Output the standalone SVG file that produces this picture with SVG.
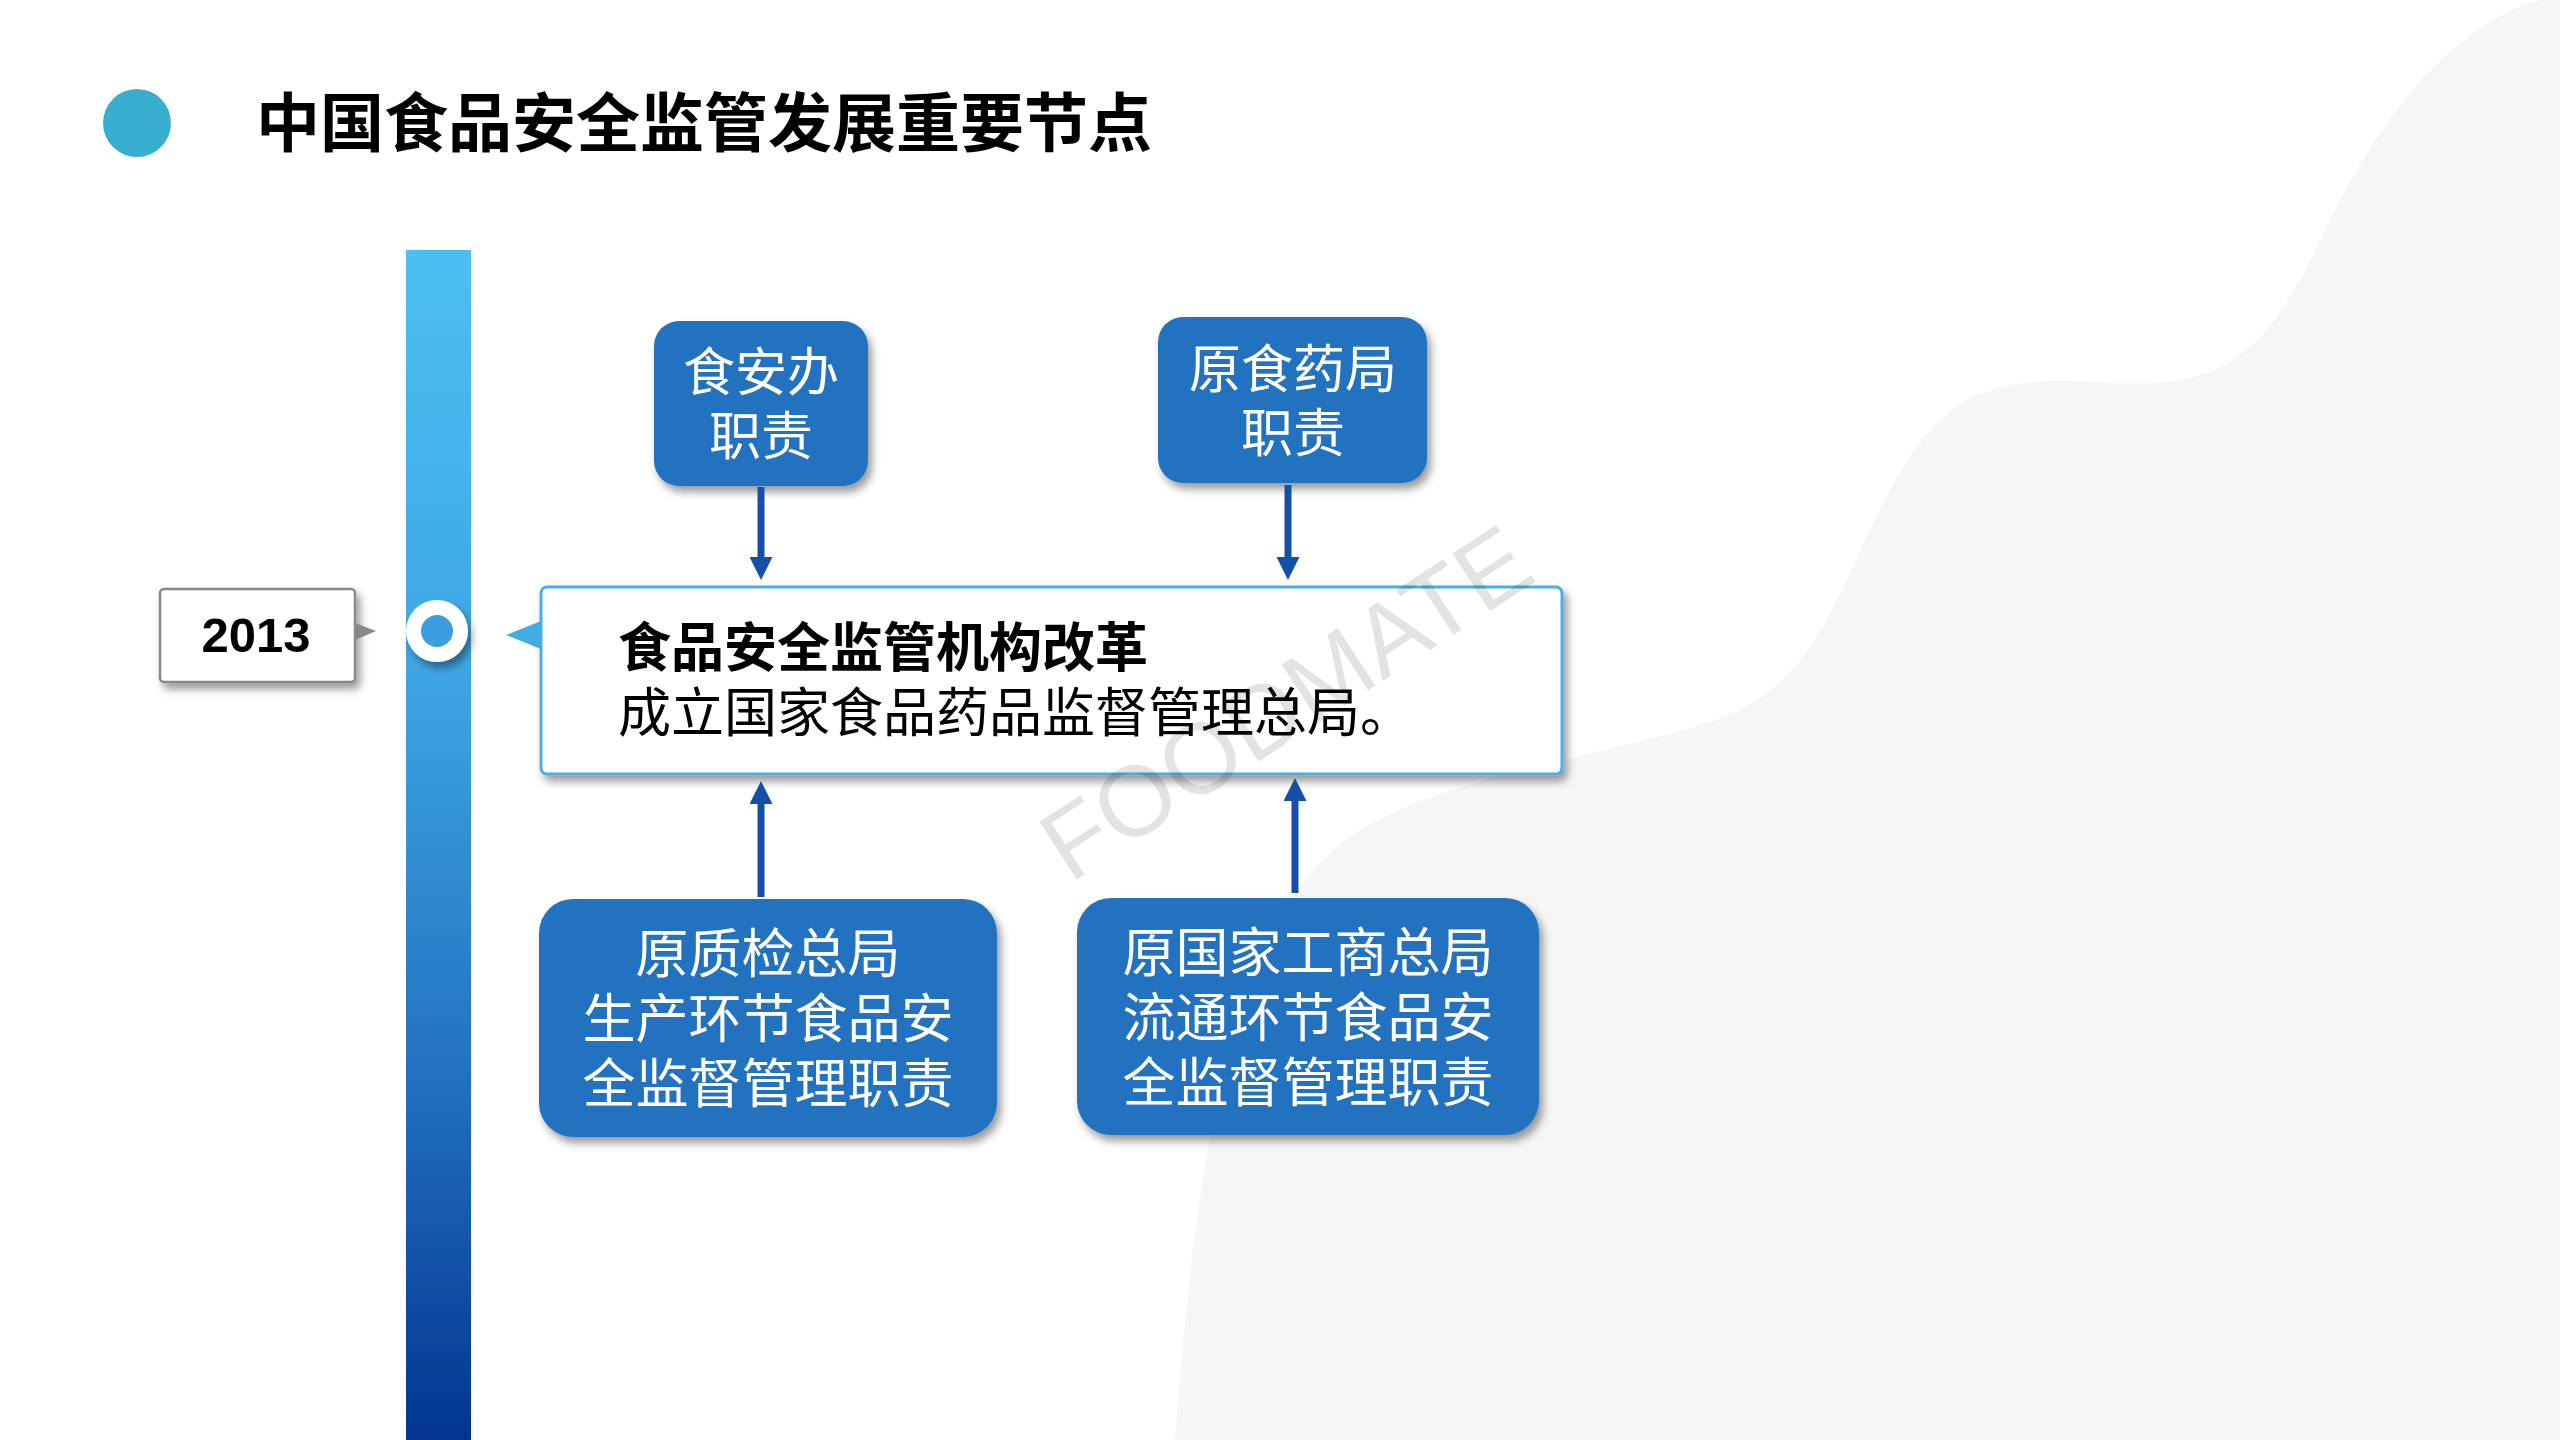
<svg xmlns="http://www.w3.org/2000/svg" width="2560" height="1440" viewBox="0 0 2560 1440">
<style>
.cjk{font-family:"Noto Sans CJK SC","Noto Sans",sans-serif}
.box{fill:#2472C0}
.wt{fill:#FFFFFF;font-size:52px;text-anchor:middle}
.wb{fill:#FFFFFF;font-size:53px;text-anchor:middle}
.conn{stroke:#1550A8;stroke-width:7;fill:none}
</style>
<defs>
<linearGradient id="bar" x1="0" y1="0" x2="0" y2="1">
<stop offset="0" stop-color="#4BBFF3"/>
<stop offset="0.35" stop-color="#3EA6E4"/>
<stop offset="0.7" stop-color="#2270C0"/>
<stop offset="1" stop-color="#03358F"/>
</linearGradient>
<filter id="sh" x="-20%" y="-20%" width="140%" height="150%">
<feDropShadow dx="4" dy="6" stdDeviation="4" flood-color="#000" flood-opacity="0.4"/>
</filter>
<marker id="ah" viewBox="0 0 23 23" refX="13" refY="11.5" markerWidth="23" markerHeight="23" markerUnits="userSpaceOnUse" orient="auto">
<path d="M0,0 L23,11.5 L0,23 z" fill="#1550A8"/>
</marker>
</defs>
<rect width="2560" height="1440" fill="#FFFFFF"/>
<path id="blob" d="M2540 0 C2450 25,2380 120,2330 220 C2290 300,2260 380,2150 383 C2090 386,2040 370,1975 396 C1920 420,1890 490,1860 551 C1820 640,1790 700,1700 725 C1600 755,1440 780,1360 830 C1290 875,1250 960,1225 1060 C1200 1170,1185 1300,1175 1440 L2560 1440 L2560 0 Z" fill="#F6F6F7"/>
<g id="title">
<circle cx="137" cy="123" r="34" fill="#38AFD0"/>
<text x="256" y="146" class="cjk" font-size="64" font-weight="bold" fill="#000000">中国食品安全监管发展重要节点</text>
</g>
<g id="timeline">
<rect x="406" y="250" width="65" height="1190" fill="url(#bar)"/>
<circle cx="437" cy="631" r="31" fill="#FFFFFF" filter="url(#sh)"/>
<circle cx="437" cy="631" r="16" fill="#3A9EE0"/>
</g>
<g id="year">
<rect x="160" y="589" width="195" height="93" rx="4" fill="#FFFFFF" stroke="#888888" stroke-width="2.5" filter="url(#sh)"/>
<polygon points="355,623 376,631 355,640" fill="#888888"/>
<text x="256" y="652" font-family="'Liberation Sans',Arial,sans-serif" font-size="49" font-weight="bold" text-anchor="middle" fill="#000000">2013</text>
</g>
<g id="main">
<rect x="541" y="587" width="1021" height="187" rx="6" fill="#FFFFFF" stroke="#4AAEE3" stroke-width="3" filter="url(#sh)"/>
<polygon points="506,635 541,621 541,649" fill="#43ACE5"/>
<text x="618" y="667" class="cjk" font-size="53" font-weight="bold" fill="#000000">食品安全监管机构改革</text>
<text x="618" y="732" class="cjk" font-size="53" fill="#000000">成立国家食品药品监督管理总局。</text>
</g>
<g id="n1">
<rect class="box" x="654" y="321" width="214" height="165" rx="25" filter="url(#sh)"/>
<text class="cjk wt" x="761" y="391">食安办</text>
<text class="cjk wt" x="761" y="455">职责</text>
</g>
<g id="n2">
<rect class="box" x="1158" y="317" width="269" height="166" rx="25" filter="url(#sh)"/>
<text class="cjk wt" x="1293" y="388">原食药局</text>
<text class="cjk wt" x="1293" y="452">职责</text>
</g>
<g id="n3">
<rect class="box" x="539" y="899" width="458" height="238" rx="34" filter="url(#sh)"/>
<text class="cjk wb" x="768" y="973">原质检总局</text>
<text class="cjk wb" x="768" y="1038">生产环节食品安</text>
<text class="cjk wb" x="768" y="1103">全监督管理职责</text>
</g>
<g id="n4">
<rect class="box" x="1077" y="898" width="462" height="237" rx="34" filter="url(#sh)"/>
<text class="cjk wb" x="1308" y="972">原国家工商总局</text>
<text class="cjk wb" x="1308" y="1037">流通环节食品安</text>
<text class="cjk wb" x="1308" y="1102">全监督管理职责</text>
</g>
<g id="connectors">
<line class="conn" x1="761" y1="487" x2="761" y2="570" marker-end="url(#ah)"/>
<line class="conn" x1="1288" y1="485" x2="1288" y2="570" marker-end="url(#ah)"/>
<line class="conn" x1="761" y1="897" x2="761" y2="791" marker-end="url(#ah)"/>
<line class="conn" x1="1295" y1="893" x2="1295" y2="788" marker-end="url(#ah)"/>
</g>
<text id="watermark" transform="translate(1070,884) rotate(-33)" font-family="'Liberation Sans',Arial,sans-serif" font-size="100" fill="#000000" fill-opacity="0.11">FOODMATE</text>
</svg>
